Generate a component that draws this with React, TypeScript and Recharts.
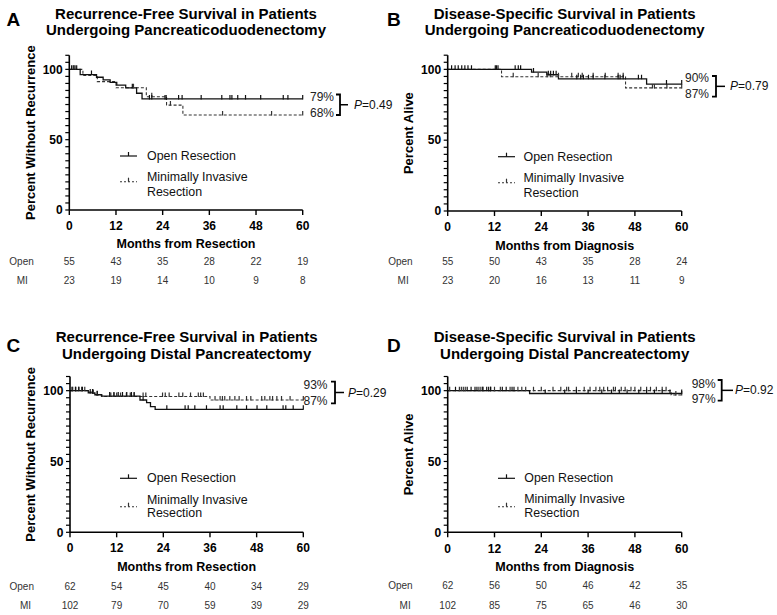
import React from 'react';
import { LineChart, Line, XAxis, YAxis } from 'recharts';

const FONT = 'Arial, "Liberation Sans", Helvetica, sans-serif';

// shared axes
const monthTicks = [0, 12, 24, 36, 48, 60];
const percentTicks = [0, 5, 10, 15, 20, 25, 30, 35, 40, 45, 50, 55, 60, 65, 70, 75, 80, 85, 90, 95, 100, 105, 110];

// A: recurrence-free survival, pancreaticoduodenectomy
const rfsPdOpenSteps: [number, number][] = [[0, 100], [2.8, 96.3], [7, 94.4], [8.7, 92.5], [10.5, 90.7], [12.2, 88.8], [14.5, 86.9], [17.3, 83], [18.7, 79]];
const rfsPdOpenCensored = [0.6, 1.2, 1.9, 5.7, 16.2, 20.6, 21.2, 24.6, 24.9, 28.1, 29, 33.9, 39.2, 41.3, 41.8, 43.3, 45.3, 49.2, 55, 56.2, 60];
const rfsPdMiSteps: [number, number][] = [[0, 100], [3.5, 95.7], [7.2, 91.3], [12, 86.9], [19.8, 80.5], [25, 74.6], [29.2, 67.6]];
const rfsPdMiCensored = [1, 1.5, 16.5, 21.2, 26, 39.4, 52, 60];
const rfsPdOpenAtRisk = [55, 43, 35, 28, 22, 19];
const rfsPdMiAtRisk = [23, 19, 14, 10, 9, 8];

// B: disease-specific survival, pancreaticoduodenectomy
const dssPdOpenSteps: [number, number][] = [[0, 100], [21.5, 98.1], [25.4, 96.2], [28.4, 93.3], [51, 89.6]];
const dssPdOpenCensored = [1, 1.9, 2.7, 3.6, 4.4, 5.2, 6.1, 12.2, 12.5, 12.9, 17.3, 18.1, 18.7, 22, 25.8, 26.4, 27.1, 27.8, 33.1, 34.1, 34.8, 36.1, 37.3, 40.3, 43.7, 44.2, 45, 48.9, 49.7, 56.1, 60];
const dssPdMiSteps: [number, number][] = [[0, 100], [13.8, 94.8], [45.6, 86.9]];
const dssPdMiCensored = [16.8, 23.2, 25.5, 26.3, 28.4, 31.8, 33.5, 34.5, 37.3, 40.4, 43.7, 45, 52.5, 53, 56.2, 60];
const dssPdOpenAtRisk = [55, 50, 43, 35, 28, 24];
const dssPdMiAtRisk = [23, 20, 16, 13, 11, 9];

// C: recurrence-free survival, distal pancreatectomy
const rfsDpOpenSteps: [number, number][] = [[0, 100], [4.7, 98.4], [6.4, 97.1], [8.1, 96.2], [18, 93.4], [19.7, 91.5], [20.7, 88.7], [21.9, 86.8]];
const rfsDpOpenCensored = [0.5, 1.4, 2.3, 3.2, 5.2, 5.8, 7, 10.2, 11.3, 12.4, 13.5, 14.6, 15.8, 16.5, 18.8, 24.9, 29.6, 30.4, 32.1, 35.1, 38.6, 39.4, 42.9, 45.4, 48.1, 50.6, 54.8, 55.5, 57.4, 60];
const rfsDpMiSteps: [number, number][] = [[0, 100], [4.6, 99], [5.5, 98], [6.5, 97], [8.2, 95.9], [36, 93.4]];
const rfsDpMiCensored = [0.7, 1.5, 2.2, 3, 3.8, 6, 7, 10.5, 11.3, 12, 13, 14.5, 15.5, 16.5, 18.8, 19.5, 23.8, 24.5, 25.5, 28, 29, 31, 33, 33.6, 34.3, 37.3, 38.6, 39.2, 39.8, 41.1, 42.4, 43.5, 45.4, 46.5, 49.3, 50.1, 51.4, 52.1, 53.2, 54.4, 56.6, 60];
const rfsDpOpenAtRisk = [62, 54, 45, 40, 34, 29];
const rfsDpMiAtRisk = [102, 79, 70, 59, 39, 29];

// D: disease-specific survival, distal pancreatectomy
const dssDpOpenSteps: [number, number][] = [[0, 100], [21, 98]];
const dssDpOpenCensored = [2, 5, 6, 7, 7.5, 9, 10, 10.5, 11, 14, 15, 16.5, 17, 25, 30, 33, 36, 39.5, 42, 44, 46, 49, 51, 53, 55, 57, 60];
const dssDpMiSteps: [number, number][] = [[0, 100], [57.3, 96.9]];
const dssDpMiCensored = [0.5, 3, 3.5, 4, 4.5, 8, 8.5, 9, 11, 12, 13.5, 16, 18, 19, 20, 22, 24, 27, 29, 30.5, 31, 33, 35, 36.5, 38, 39, 40, 41, 42.5, 43, 44.5, 45.5, 47, 48, 49.5, 51, 52, 53.5, 55, 56, 58.5, 60];
const dssDpOpenAtRisk = [62, 56, 50, 46, 42, 35];
const dssDpMiAtRisk = [102, 85, 75, 65, 46, 30];

interface Row { t: number; s: number; c?: boolean }

// KM step rows plus censor rows sitting on the current level
const buildCurve = (steps: [number, number][], censored: number[]): Row[] => {
  const levelAt = (t: number) => {
    let s = steps[0][1];
    steps.forEach(([st, sv]) => { if (st <= t) s = sv; });
    return s;
  };
  const rows: Row[] = steps.map(([t, s]) => ({ t, s }));
  censored.forEach((t) => rows.push({ t, s: levelAt(t), c: true }));
  if (!censored.includes(60)) rows.push({ t: 60, s: levelAt(60) });
  return rows.sort((a, b) => a.t - b.t || (a.c ? 1 : 0) - (b.c ? 1 : 0));
};

const censorDot = (color: string) => (props: any) => {
  const { cx, cy, payload, index } = props;
  if (!payload || !payload.c || cx == null || cy == null) return <g key={`n-${index}`} />;
  return <line key={`c-${index}`} x1={cx} x2={cx} y1={cy - 4} y2={cy + 0.5} stroke={color} strokeWidth={1.2} />;
};

const panels = [
  {
    letter: 'A', letterPos: [6.5, 19],
    title: ['Recurrence-Free Survival in Patients', 'Undergoing Pancreaticoduodenectomy'], titleY: 13, titleGap: 16.9,
    yLabel: 'Percent Without Recurrence', xLabel: 'Months from Resection',
    open: buildCurve(rfsPdOpenSteps, rfsPdOpenCensored), mi: buildCurve(rfsPdMiSteps, rfsPdMiCensored),
    openRisk: rfsPdOpenAtRisk, miRisk: rfsPdMiAtRisk,
    box: { left: 0, top: 0, width: 384, height: 300 },
    plot: { left: 69.3, right: 302.7, top: 55.3, bottom: 210 },
    rows: { tick: 16, title: 33, open: 51, mi: 70 },
    yLabelX: 30.5, riskLabelOffset: [35.5, 41.5],
    legend: { x0: 120, x1: 137, textX: 147, openY: 156, miY: [177, 192], dashY: 181.7 },
    ends: { text: ['79%', '68%'], x: 310, y: [97.3, 113.3], brX: 340, brY: [94.5, 115], tickX: 348, pX: 354, p: '0.49' },
  },
  {
    letter: 'B', letterPos: [387, 19],
    title: ['Disease-Specific Survival in Patients', 'Undergoing Pancreaticoduodenectomy'], titleY: 13, titleGap: 16.9,
    yLabel: 'Percent Alive', xLabel: 'Months from Diagnosis',
    open: buildCurve(dssPdOpenSteps, dssPdOpenCensored), mi: buildCurve(dssPdMiSteps, dssPdMiCensored),
    openRisk: dssPdOpenAtRisk, miRisk: dssPdMiAtRisk,
    box: { left: 384, top: 0, width: 393, height: 300 },
    plot: { left: 447.7, right: 681.7, top: 55.2, bottom: 211 },
    rows: { tick: 15.7, title: 34, open: 50.7, mi: 69 },
    yLabelX: 408.7, riskLabelOffset: [35, 39],
    legend: { x0: 498, x1: 515, textX: 523.5, openY: 156.7, miY: [178, 192.7], dashY: 182.7 },
    ends: { text: ['90%', '87%'], x: 685, y: [78.3, 94], brX: 716, brY: [76, 96.7], tickX: 725, pX: 730, p: '0.79' },
  },
  {
    letter: 'C', letterPos: [6.5, 345],
    title: ['Recurrence-Free Survival in Patients', 'Undergoing Distal Pancreatectomy'], titleY: 336, titleGap: 17.7,
    yLabel: 'Percent Without Recurrence', xLabel: 'Months from Resection',
    open: buildCurve(rfsDpOpenSteps, rfsDpOpenCensored), mi: buildCurve(rfsDpMiSteps, rfsDpMiCensored),
    openRisk: rfsDpOpenAtRisk, miRisk: rfsDpMiAtRisk,
    box: { left: 0, top: 300, width: 384, height: 315 },
    plot: { left: 70, right: 303.3, top: 376.5, bottom: 532.3 },
    rows: { tick: 15.7, title: 33.7, open: 53.7, mi: 72.7 },
    yLabelX: 30.5, riskLabelOffset: [36, 39],
    legend: { x0: 120, x1: 137, textX: 147, openY: 478.3, miY: [500, 513.3], dashY: 506.7 },
    ends: { text: ['93%', '87%'], x: 303.5, y: [385, 400.7], brX: 335, brY: [381.7, 403.3], tickX: 344, pX: 348, p: '0.29' },
  },
  {
    letter: 'D', letterPos: [387, 345],
    title: ['Disease-Specific Survival in Patients', 'Undergoing Distal Pancreatectomy'], titleY: 336, titleGap: 17.7,
    yLabel: 'Percent Alive', xLabel: 'Months from Diagnosis',
    open: buildCurve(dssDpOpenSteps, dssDpOpenCensored), mi: buildCurve(dssDpMiSteps, dssDpMiCensored),
    openRisk: dssDpOpenAtRisk, miRisk: dssDpMiAtRisk,
    box: { left: 384, top: 300, width: 393, height: 315 },
    plot: { left: 447.7, right: 681.7, top: 376.5, bottom: 532.3 },
    rows: { tick: 16, title: 34.4, open: 53.4, mi: 72.7 },
    yLabelX: 408.7, riskLabelOffset: [35, 37],
    legend: { x0: 498, x1: 515, textX: 524.3, openY: 478.3, miY: [499.3, 513.3], dashY: 506.7 },
    ends: { text: ['98%', '97%'], x: 691.7, y: [384, 399.3], brX: 721.7, brY: [380, 400.7], tickX: 733, pX: 735, p: '0.92' },
  },
];

const abs = (left: number, cy: number, size: number, extra: React.CSSProperties = {}): React.CSSProperties => ({
  position: 'absolute', left, top: cy - size / 2, height: size, lineHeight: `${size}px`, fontSize: size, whiteSpace: 'nowrap', ...extra,
});

const Panel = ({ cfg }: { cfg: typeof panels[number] }) => {
  const { box, plot, rows } = cfg;
  const Y_W = 50;
  const pl = plot.left - box.left;
  const pr = plot.right - box.left;
  const pt = plot.top - box.top;
  const pb = plot.bottom - box.top;
  const mainH = rows.title + 6.5;
  const openH = 2 * (rows.open - mainH);
  const miY = mainH + openH;
  const miH = 2 * (rows.mi - miY);
  const marginBottom = box.height - pb - mainH - openH - miH;
  const riskFmt = (list: number[]) => (v: number) => String(list[monthTicks.indexOf(v)] ?? '');

  return (
    <div style={{ position: 'absolute', left: box.left, top: box.top }}>
      <LineChart width={box.width} height={box.height} margin={{ top: pt, right: box.width - pr, bottom: marginBottom, left: pl - Y_W }}>
        <XAxis
          xAxisId="x0" type="number" dataKey="t" domain={[0, 60]} ticks={monthTicks} height={mainH} interval={0}
          tickSize={5} tickMargin={rows.tick - 5 - 4.3}
          axisLine={{ stroke: '#000', strokeWidth: 1.6 }} tickLine={{ stroke: '#000', strokeWidth: 1.4 }}
          tick={{ fill: '#000', fontSize: 12, fontWeight: 700 }}
          label={{ value: cfg.xLabel, position: 'insideBottom', offset: 2, fill: '#000', fontSize: 12.5, fontWeight: 700 }}
        />
        <XAxis
          xAxisId="x1" type="number" dataKey="t" domain={[0, 60]} ticks={monthTicks} height={openH} interval={0}
          axisLine={false} tickLine={false} tickSize={0} tickMargin={rows.open - mainH - 3.6}
          tick={{ fill: '#333', fontSize: 10 }} tickFormatter={riskFmt(cfg.openRisk)}
          label={{ value: 'Open', position: 'left', offset: cfg.riskLabelOffset[0], fill: '#333', fontSize: 10 }}
        />
        <XAxis
          xAxisId="x2" type="number" dataKey="t" domain={[0, 60]} ticks={monthTicks} height={miH} interval={0}
          axisLine={false} tickLine={false} tickSize={0} tickMargin={rows.mi - miY - 3.6}
          tick={{ fill: '#333', fontSize: 10 }} tickFormatter={riskFmt(cfg.miRisk)}
          label={{ value: 'MI', position: 'left', offset: cfg.riskLabelOffset[1], fill: '#333', fontSize: 10 }}
        />
        <YAxis
          type="number" domain={[0, 110]} ticks={percentTicks} width={Y_W} allowDataOverflow interval={0}
          tickSize={4} tickMargin={2.6} tickFormatter={(v: number) => (v % 50 === 0 ? String(v) : '')}
          axisLine={{ stroke: '#000', strokeWidth: 1.6 }} tickLine={{ stroke: '#000', strokeWidth: 1.2 }}
          tick={{ fill: '#000', fontSize: 12, fontWeight: 700 }}
          label={{
            value: cfg.yLabel, angle: -90, position: 'insideLeft', offset: cfg.yLabelX - box.left - (pl - Y_W),
            fill: '#000', fontSize: 13, fontWeight: 700, style: { textAnchor: 'middle' },
          }}
        />
        {/* invisible series so the at-risk axes get a scale */}
        <Line xAxisId="x1" data={cfg.open} dataKey="s" stroke="none" dot={false} activeDot={false} isAnimationActive={false} />
        <Line xAxisId="x2" data={cfg.mi} dataKey="s" stroke="none" dot={false} activeDot={false} isAnimationActive={false} />
        <Line
          xAxisId="x0" data={cfg.mi} dataKey="s" type="stepAfter" stroke="#333" strokeWidth={1.1}
          strokeDasharray="3 2" dot={censorDot('#333')} activeDot={false} isAnimationActive={false}
        />
        <Line
          xAxisId="x0" data={cfg.open} dataKey="s" type="stepAfter" stroke="#111" strokeWidth={1.3}
          dot={censorDot('#111')} activeDot={false} isAnimationActive={false}
        />
      </LineChart>
    </div>
  );
};

const Annotations = ({ cfg }: { cfg: typeof panels[number] }) => {
  const { legend, ends } = cfg;
  const titleLeft = (cfg.plot.left + cfg.plot.right) / 2 - 200;
  const midY = (ends.brY[0] + ends.brY[1]) / 2;
  return (
    <>
      <div style={abs(cfg.letterPos[0], cfg.letterPos[1], 19, { fontWeight: 700, color: '#000' })}>{cfg.letter}</div>
      {cfg.title.map((line, i) => (
        <div key={i} style={abs(titleLeft, cfg.titleY + i * cfg.titleGap, 15, { width: 400, textAlign: 'center', fontWeight: 700, color: '#000' })}>
          {line}
        </div>
      ))}
      <svg style={{ position: 'absolute', left: 0, top: 0, overflow: 'visible' }} width={1} height={1}>
        <line x1={legend.x0} x2={legend.x1} y1={legend.openY} y2={legend.openY} stroke="#111" strokeWidth={1.2} />
        <line x1={(legend.x0 + legend.x1) / 2} x2={(legend.x0 + legend.x1) / 2} y1={legend.openY - 4} y2={legend.openY} stroke="#111" strokeWidth={1.2} />
        <line x1={legend.x0} x2={legend.x1} y1={legend.dashY} y2={legend.dashY} stroke="#333" strokeWidth={1.1} strokeDasharray="2 2" />
        <line x1={(legend.x0 + legend.x1) / 2} x2={(legend.x0 + legend.x1) / 2} y1={legend.dashY - 4} y2={legend.dashY} stroke="#333" strokeWidth={1.2} />
        <polyline
          points={`${ends.brX - 4},${ends.brY[0]} ${ends.brX},${ends.brY[0]} ${ends.brX},${ends.brY[1]} ${ends.brX - 4},${ends.brY[1]}`}
          fill="none" stroke="#000" strokeWidth={1.8}
        />
        <line x1={ends.brX} x2={ends.tickX} y1={midY} y2={midY} stroke="#000" strokeWidth={1.5} />
      </svg>
      <div style={abs(legend.textX, legend.openY, 12.4, { color: '#111' })}>Open Resection</div>
      <div style={abs(legend.textX, legend.miY[0], 12.4, { color: '#111' })}>Minimally Invasive</div>
      <div style={abs(legend.textX, legend.miY[1], 12.4, { color: '#111' })}>Resection</div>
      <div style={abs(ends.x, ends.y[0], 12, { color: '#222' })}>{ends.text[0]}</div>
      <div style={abs(ends.x, ends.y[1], 12, { color: '#222' })}>{ends.text[1]}</div>
      <div style={abs(ends.pX, midY, 12, { color: '#111' })}><i>P</i>={ends.p}</div>
    </>
  );
};

export default function App() {
  return (
    <div style={{ position: 'absolute', left: 0, top: 0, width: 777, height: 615, background: '#fff', fontFamily: FONT, overflow: 'hidden' }}>
      {panels.map((p) => <Panel key={p.letter} cfg={p} />)}
      {panels.map((p) => <Annotations key={`a-${p.letter}`} cfg={p} />)}
    </div>
  );
}
